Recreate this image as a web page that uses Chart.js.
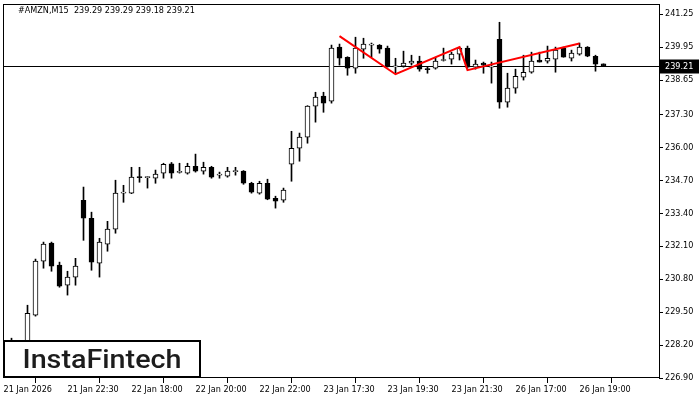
<!DOCTYPE html>
<html><head><meta charset="utf-8">
<script src="https://cdn.jsdelivr.net/npm/chart.js@4.4.1/dist/chart.umd.min.js"></script>
<style>html,body{margin:0;padding:0;background:#fff}</style>
</head><body>
<canvas id="c" width="700" height="400"></canvas>
<script>
const symbolTitle = "#AMZN,M15  239.29 239.29 239.18 239.21";
const brand = "InstaFintech";
const xTickLabels = ["21 Jan 2026","21 Jan 22:30","22 Jan 18:00","22 Jan 20:00","22 Jan 22:00","23 Jan 17:30","23 Jan 19:30","23 Jan 21:30","26 Jan 17:00","26 Jan 19:00"];
const xTickIndex = [0,8,16,24,32,40,48,56,64,72];
const yTickValues = [226.90,228.20,229.50,230.80,232.10,233.40,234.70,236.00,237.30,238.65,239.95,241.25];
const open  = [227.70,227.95,228.20,227.95,229.38,231.51,232.22,231.35,230.56,230.88,233.91,233.20,231.43,232.18,232.77,234.19,234.19,234.82,234.80,234.78,234.98,235.35,235.01,234.98,235.25,235.06,235.21,234.90,234.86,235.04,235.06,234.58,234.19,234.58,233.99,233.91,235.33,235.96,236.40,237.62,238.02,237.82,239.95,239.55,239.12,239.87,240.03,240.03,239.91,239.17,239.20,239.32,239.40,239.08,239.12,239.42,239.47,239.67,239.91,239.16,239.32,239.16,240.26,237.78,238.33,238.76,238.96,239.44,239.40,239.47,239.91,239.51,239.67,239.95,239.59,239.29];
const high  = [228.10,228.47,228.35,229.77,231.59,232.26,232.26,231.47,231.11,231.62,234.43,233.44,232.41,233.08,234.70,234.50,235.21,235.21,234.84,235.10,235.37,235.40,235.37,235.37,235.73,235.41,235.25,235.02,235.21,235.21,235.08,234.62,234.66,234.74,234.07,234.39,236.63,236.56,237.64,238.17,238.17,240.03,240.07,239.57,240.34,240.30,240.11,240.05,239.99,239.51,239.79,239.63,239.59,239.16,239.55,239.91,239.75,239.95,239.99,239.44,239.36,239.36,240.93,238.92,239.08,239.63,239.75,239.75,239.99,239.95,239.95,239.83,240.11,239.97,239.63,239.29];
const low   = [227.40,227.80,227.75,227.85,229.34,231.23,231.11,230.48,230.17,230.56,232.33,231.15,230.88,231.90,232.61,233.83,234.17,234.62,234.39,234.58,234.78,234.78,234.98,234.94,235.02,234.94,234.78,234.78,234.82,234.90,234.54,234.19,234.15,233.93,233.60,233.83,234.66,235.45,236.16,236.99,237.38,237.74,239.24,238.84,238.92,239.51,239.55,239.71,239.16,238.92,239.16,239.24,239.00,238.92,239.08,239.40,239.28,239.44,239.12,239.08,238.92,238.53,237.54,237.58,238.13,238.65,238.92,239.36,239.32,238.96,239.55,239.40,239.63,239.57,239.00,239.18];
const close = [227.95,228.20,227.95,229.45,231.51,232.18,231.31,230.52,230.88,231.31,233.20,231.47,232.26,232.77,234.19,234.22,234.82,234.80,234.82,234.94,235.33,234.98,235.03,235.25,235.06,235.21,234.82,234.92,235.06,235.06,234.58,234.23,234.58,233.95,233.87,234.31,235.96,236.40,237.62,237.98,237.74,239.91,239.51,239.12,239.91,240.07,240.04,239.87,239.20,239.19,239.32,239.40,239.08,239.06,239.40,239.44,239.67,239.91,239.16,239.28,239.24,239.17,237.78,238.33,238.80,238.96,239.40,239.36,239.51,239.83,239.55,239.71,239.95,239.59,239.28,239.21];
const patternIndex = [42,49,57,58,72];
const patternPrice = [240.38,238.88,239.95,239.04,240.09];
const lastPrice = 239.21;

const FONT = "'DejaVu Sans Condensed','Liberation Sans',sans-serif";
const wickData = open.map((_, i) => ({x: i, y: [low[i], high[i]]}));
const bodyData = open.map((_, i) => ({x: i, y: [open[i], close[i]]}));
const patternData = patternIndex.map((x, i) => ({x: x, y: patternPrice[i]}));

const overlay = {
  id: 'overlay',
  beforeDraw(chart) {
    const c = chart.ctx;
    c.save(); c.fillStyle = '#fff'; c.fillRect(0, 0, chart.width, chart.height); c.restore();
  },
  beforeDatasetsDraw(chart) {
    const c = chart.ctx, a = chart.chartArea;
    const py = Math.round(chart.scales.y.getPixelForValue(lastPrice)) + 0.5;
    c.save();
    c.strokeStyle = '#000'; c.lineWidth = 1;
    c.beginPath(); c.moveTo(a.left, py); c.lineTo(a.right, py); c.stroke();
    c.restore();
  },
  afterDraw(chart) {
    const c = chart.ctx, a = chart.chartArea;
    c.save();
    c.strokeStyle = '#000'; c.lineWidth = 1;
    c.strokeRect(a.left + 0.5, a.top + 0.5, a.right - a.left, a.bottom - a.top - 1);
    const py = Math.round(chart.scales.y.getPixelForValue(lastPrice)) + 0.5;
    c.fillStyle = '#000';
    c.fillRect(a.right + 1, py - 7, 39, 14);
    c.fillStyle = '#fff';
    c.font = "9px " + FONT;
    c.textBaseline = 'middle'; c.textAlign = 'left';
    c.fillText(lastPrice.toFixed(2), a.right + 6, py);
    c.fillStyle = '#000';
    c.fillText(symbolTitle, 18, 11);
    c.fillStyle = '#fff';
    c.fillRect(3, 340, 198, 38);
    c.lineWidth = 2; c.strokeStyle = '#000';
    c.strokeRect(4, 341, 196, 36);
    c.font = "500 25px Roboto";
    const w = c.measureText(brand).width;
    c.translate(22.5, 368);
    c.scale(159 / w, 1);
    c.fillStyle = '#1c1c1c';
    c.textBaseline = 'alphabetic';
    c.fillText(brand, 0, 0);
    c.restore();
  }
};

new Chart(document.getElementById('c'), {
  type: 'bar',
  data: {
    datasets: [
      {type: 'line', data: patternData, borderColor: '#ff0000', borderWidth: 2, pointRadius: 0, fill: false, tension: 0, order: 0},
      {data: bodyData, barThickness: 5, borderWidth: 1, borderColor: '#000', borderSkipped: false,
       backgroundColor: (ctx) => (close[ctx.dataIndex] >= open[ctx.dataIndex] ? '#ffffff' : '#000000'),
       minBarLength: 1, grouped: false, order: 1},
      {data: wickData, barThickness: 1, borderWidth: 0, backgroundColor: '#000', grouped: false, order: 2}
    ]
  },
  options: {
    responsive: false, animation: false, devicePixelRatio: 1,
    layout: {padding: {left: 3, top: 4, right: 0, bottom: 0}},
    plugins: {legend: {display: false}, tooltip: {enabled: false}},
    scales: {
      x: {
        type: 'linear', min: -0.0625, max: 81.9375, offset: false,
        grid: {display: true, drawOnChartArea: false, drawTicks: true, tickLength: 5, color: '#000', lineWidth: 1},
        border: {display: false},
        afterBuildTicks: (s) => { s.ticks = xTickIndex.map(v => ({value: v})); },
        ticks: {autoSkip: false, maxRotation: 0, minRotation: 0, align: 'start', padding: 1, color: '#000',
                font: {family: FONT, size: 9}, callback: (v, i) => xTickLabels[i]},
        afterFit: (s) => { s.height = 22; s.paddingLeft = 0; s.paddingRight = 0; }
      },
      y: {
        type: 'linear', position: 'right', min: 226.90, max: 241.65,
        grid: {display: true, drawOnChartArea: false, drawTicks: true, tickLength: 4, color: '#000', lineWidth: 1},
        border: {display: false},
        afterBuildTicks: (s) => { s.ticks = yTickValues.map(v => ({value: v})); },
        ticks: {padding: 2, color: '#000', font: {family: FONT, size: 9}, callback: (v) => Number(v).toFixed(2)},
        afterFit: (s) => { s.width = 41; s.paddingTop = 0; s.paddingBottom = 0; }
      }
    }
  },
  plugins: [overlay]
});
</script>
</body></html>
